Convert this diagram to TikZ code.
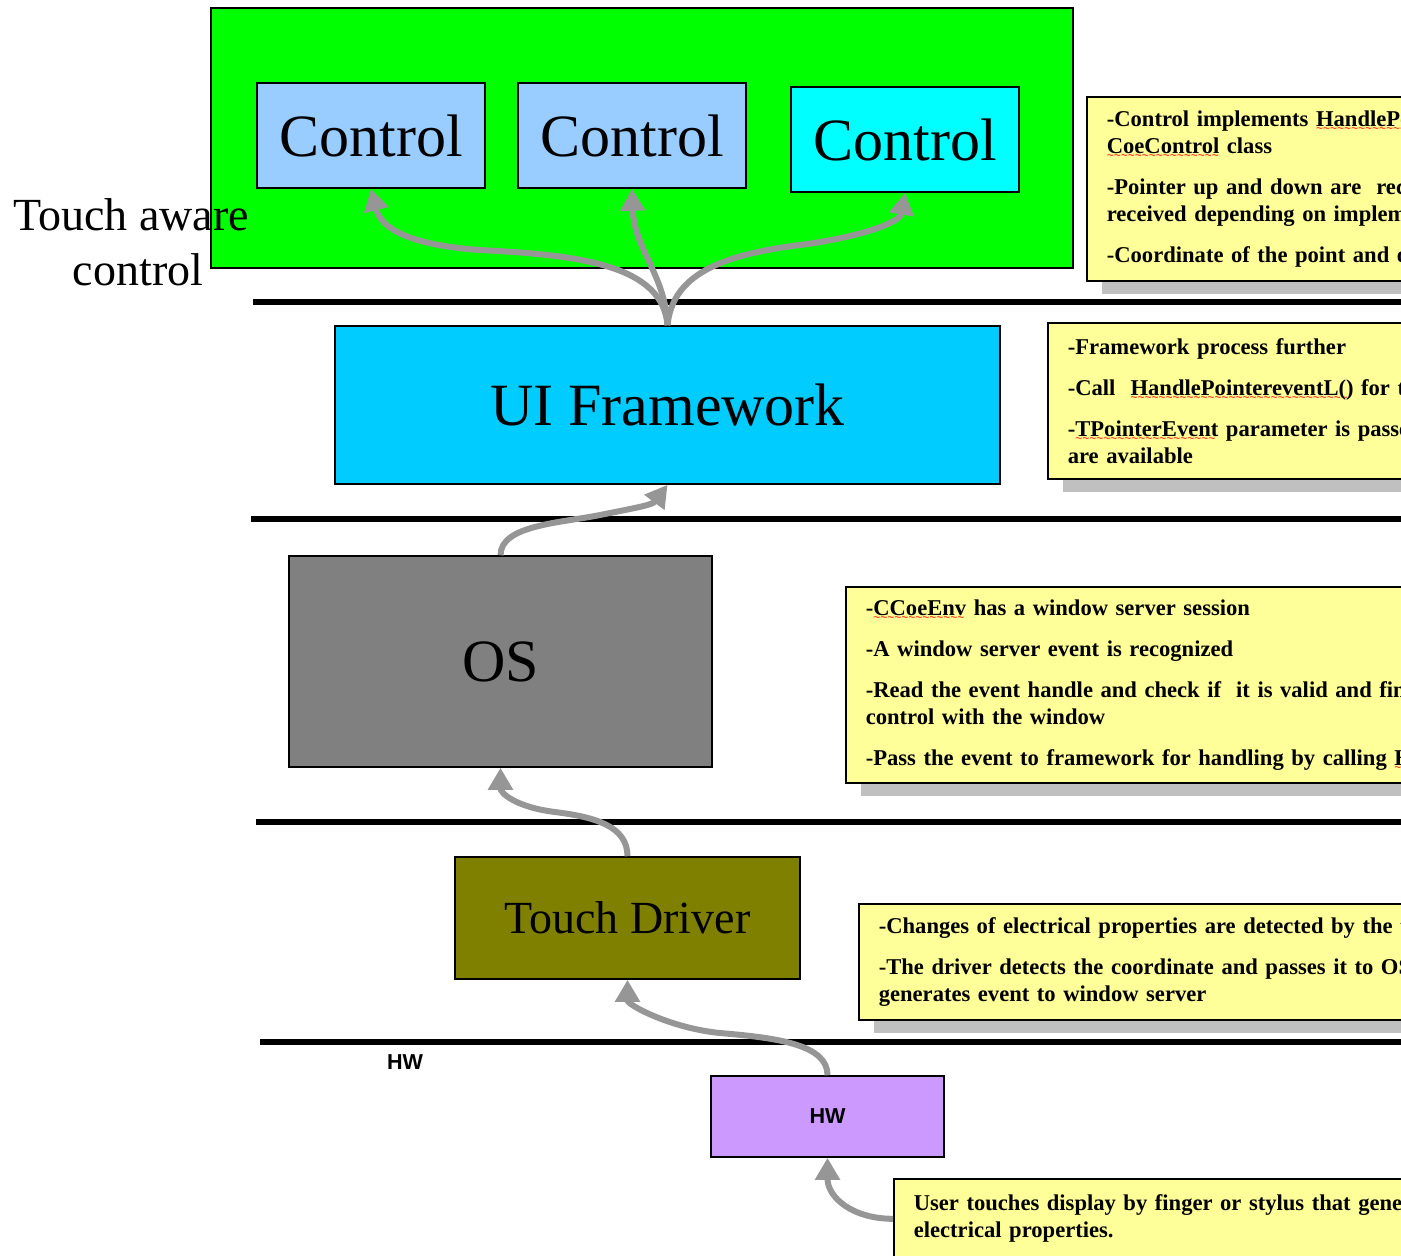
\documentclass[tikz,border=0pt]{standalone}
\usepackage{fontspec}
\setmainfont{Liberation Serif}
\newfontfamily\hwfont{Liberation Sans}
\usetikzlibrary{arrows.meta,shadows}
\newsavebox\rwbox
\newcommand\redwave[1]{\leavevmode\sbox\rwbox{#1}\rlap{\raisebox{-3pt}[0pt][0pt]{\textcolor{red}{\hbox to \wd\rwbox{\hwfont\mdseries\fontsize{6}{6}\selectfont\leaders\hbox{\char"7E}\hfill}}}}\usebox\rwbox}
\definecolor{appgreen}{HTML}{00FF00}
\definecolor{ctrlblue}{HTML}{99CCFF}
\definecolor{ctrlcyan}{HTML}{00FFFF}
\definecolor{uiblue}{HTML}{00CCFF}
\definecolor{osgray}{HTML}{808080}
\definecolor{tdolive}{HTML}{808000}
\definecolor{hwviolet}{HTML}{CC99FF}
\definecolor{noteyellow}{HTML}{FFFF99}
\definecolor{shadowgray}{HTML}{C0C0C0}
\definecolor{arrowgray}{HTML}{969696}
\tikzset{
  box/.style={draw=black, line width=0.8pt, inner sep=0pt, anchor=center},
  bigtext/.style={font=\fontsize{30}{36}\selectfont},
  note/.style={draw=black, line width=0.8pt, fill=noteyellow, anchor=north west,
    align=left, text width=560pt, inner xsep=10pt, inner ysep=0pt,
    font=\fontsize{11.3}{13.5}\selectfont\bfseries,
    drop shadow={opacity=1, fill=shadowgray, shadow xshift=7.5pt, shadow yshift=-6.5pt}},
  arr/.style={draw=arrowgray, line width=3pt, -{Triangle[length=11pt,width=12pt,fill=arrowgray]}},
  layerline/.style={draw=black, line width=3pt},
}
\begin{document}
\begin{tikzpicture}[x=0.5pt, y=-0.5pt]
\useasboundingbox (0,0) rectangle (1401,1255);
\clip (0,0) rectangle (1401,1255);

% application layer
\node[box, fill=appgreen, minimum width=431pt, minimum height=130pt] (app) at (642,138) {};
\node[box, fill=ctrlblue, minimum width=114pt, minimum height=52.5pt, bigtext] (c1) at (371,135.5) {Control};
\node[box, fill=ctrlblue, minimum width=114pt, minimum height=52.5pt, bigtext] (c2) at (632,135.5) {Control};
\node[box, fill=ctrlcyan, minimum width=114pt, minimum height=52.5pt, bigtext] (c3) at (905,139.5) {Control};
\node[font=\fontsize{23}{27.5}\selectfont, align=center, inner sep=0pt] (tac) at (131,242) {Touch aware\\\hspace*{7pt}control};

% other layers
\node[box, fill=uiblue, minimum width=332.5pt, minimum height=79pt, bigtext] (ui) at (667.5,405) {UI Framework};
\node[box, fill=osgray, minimum width=211.5pt, minimum height=105.5pt, bigtext] (os) at (500.5,661.5) {OS};
\node[box, fill=tdolive, minimum width=172.5pt, minimum height=61pt, font=\fontsize{23}{27.5}\selectfont] (td) at (627.5,918) {Touch Driver};
\node[box, fill=hwviolet, minimum width=116.5pt, minimum height=40.5pt, font=\hwfont\bfseries\fontsize{10.8}{13}\selectfont] (hw) at (827.5,1116.5) {HW};
\node[font=\hwfont\bfseries\fontsize{10.8}{13}\selectfont, inner sep=0pt] (hwlabel) at (405,1062) {HW};

% separator lines
\draw[layerline] (253,302) -- (1401,302);
\draw[layerline] (251,519) -- (1401,519);
\draw[layerline] (256,822) -- (1401,822);
\draw[layerline] (260,1042) -- (1401,1042);

% notes
\node[note, minimum height=92pt] (n1) at (1086,96) {%
-Control implements \redwave{HandlePointerEventL()} of\\
\redwave{CoeControl} class\\[7pt]
-Pointer up and down are\ \ received always, drag events are\\
received depending on implementation\\[7pt]
-Coordinate of the point and other information are passed};
\node[note, minimum height=78pt] (n2) at (1047,322) {%
-Framework process further\\[7pt]
-Call\ \ \redwave{HandlePointereventL()} for the control\\[7pt]
-\redwave{TPointerEvent} parameter is passed, so the coordinates\\
are available};
\node[note, minimum height=98pt] (n3) at (845,586) {%
-\redwave{CCoeEnv} has a window server session\\[7pt]
-A window server event is recognized\\[7pt]
-Read the event handle and check if\ \ it is valid and find the\\
control with the window\\[7pt]
-Pass the event to framework for handling by calling \redwave{HandlePointerEventL()}};
\node[note, minimum height=58pt] (n4) at (858,903) {%
-Changes of electrical properties are detected by the touch driver\\[7pt]
-The driver detects the coordinate and passes it to OS, which\\
generates event to window server};
\node[note, minimum height=40pt] (n5) at (893,1178) {%
User touches display by finger or stylus that generates changes in\\
electrical properties.};

% arrows
\draw[arr] (ui.north) .. controls +(-5,-60) and +(100,5) .. (480,250) .. controls +(-70,-5) and +(10,40) .. (c1.south);
\draw[arr] (ui.north) .. controls +(-2,-50) and +(2,60) .. (c2.south);
\draw[arr] (ui.north) .. controls +(5,-50) and +(-80,10) .. (800,245) .. controls +(60,-8) and +(-5,30) .. (c3.south);
\draw[arr] (os.north) .. controls +(0,-30) and +(-40,8) .. (600,515) .. controls +(40,-8) and +(-15,20) .. (ui.south);
\draw[arr] (td.north) .. controls +(0,-30) and +(40,5) .. (555,812) .. controls +(-40,-5) and +(0,25) .. (os.south);
\draw[arr] (hw.north) .. controls +(0,-30) and +(60,5) .. (720,1033) .. controls +(-50,-5) and +(0,25) .. (td.south);
\draw[arr] (n5.west) .. controls +(-40,0) and +(0,40) .. (hw.south);
\end{tikzpicture}
\end{document}
